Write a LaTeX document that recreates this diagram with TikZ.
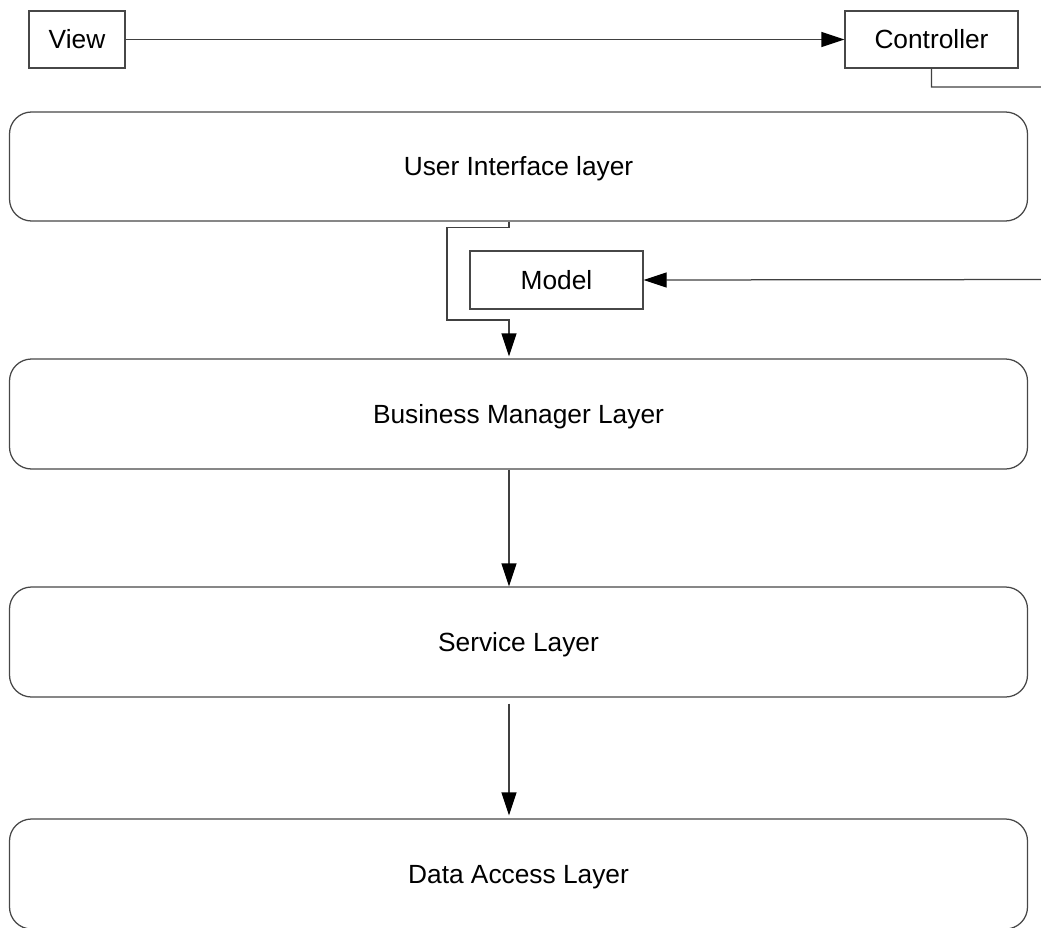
\documentclass[tikz,border=0pt]{standalone}
\usepackage{fontspec}
\setmainfont{Liberation Sans}
\usetikzlibrary{arrows.meta}
\begin{document}
\begin{tikzpicture}[x=1pt,y=-1pt,
  box/.style={draw=black!72, line width=1.25pt, inner sep=0pt,
    text height=18.8pt, text depth=0pt,
    font=\fontsize{26.3}{31}\selectfont},
  layer/.style={box, rounded corners=22pt, minimum width=1018pt, minimum height=109pt},
  link/.style={draw=black!75, line width=1.25pt,
    -{Triangle[length=23pt,width=15pt,fill=black,color=black]}}]
\useasboundingbox (0,0) rectangle (1041,928);
\clip (0,0) rectangle (1041,928);

% MVC boxes
\node[box, minimum width=96pt, minimum height=57pt] (view) at (77,39.5) {View};
\node[box, minimum width=173pt, minimum height=57pt] (ctrl) at (931.5,39.5) {Controller};
\node[box, minimum width=173pt, minimum height=58pt] (model) at (556.5,280) {Model};

% layers
\node[layer] (ui)  at (518.5,166.5) {User Interface layer};
\node[layer, minimum height=110pt] (biz) at (518.5,414) {Business Manager Layer};
\node[layer, minimum height=110pt] (svc) at (518.5,642) {Service Layer};
\node[layer, minimum height=110pt] (dal) at (518.5,874) {Data Access Layer};

% routing points
\coordinate (spine) at (509,0);
\coordinate (bend) at (447,320);
\coordinate (c1) at (1070,87);
\coordinate (c2) at (1070,279.5);

% connectors
\draw[link] (view) -- (ctrl);
\draw[link] (ctrl.south) |- (c1) -- (c2) -- (model.east);
\draw[link, shorten >=2pt] (ui.south -| spine) -- ++(0,6) -| (bend) -| (biz.north -| spine);
\draw[link] (biz.south -| spine) -- (svc.north -| spine);
\draw[link, shorten <=6pt, shorten >=3pt] (svc.south -| spine) -- (dal.north -| spine);
\end{tikzpicture}
\end{document}
